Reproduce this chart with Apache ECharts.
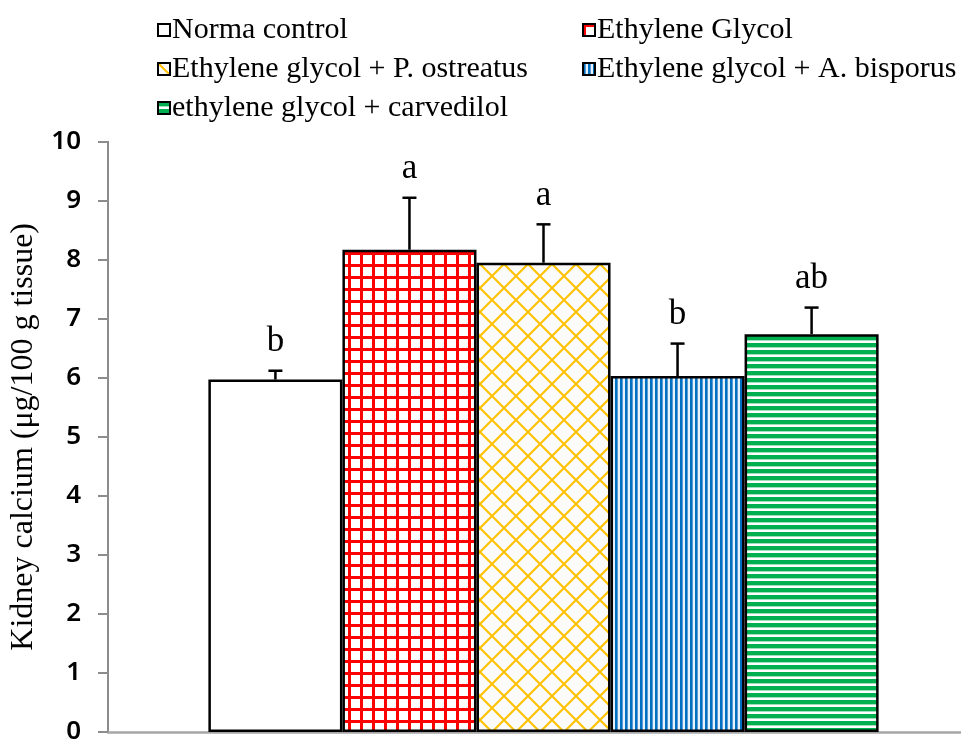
<!DOCTYPE html>
<html>
<head>
<meta charset="utf-8">
<script src="https://cdn.jsdelivr.net/npm/echarts@6/dist/echarts.min.js"></script>
<style>
  html, body { margin: 0; padding: 0; background: #ffffff; overflow: hidden; }
  /* the x axis runs on past the right edge of the page */
  #chart { width: 979px; height: 745px; }
</style>
</head>
<body>
<div id="chart"></div>
<script>
// Treatment groups, mean kidney calcium and upper error (SE), significance letters
const groups = [
  'Norma control',
  'Ethylene Glycol',
  'Ethylene glycol + P. ostreatus',
  'Ethylene glycol + A. bisporus',
  'ethylene glycol + carvedilol'
];
const calcium = [5.97, 8.17, 7.95, 6.03, 6.74];
const calciumErr = [0.15, 0.88, 0.65, 0.55, 0.45];
const letters = ['b', 'a', 'a', 'b', 'ab'];
const yMin = 0, yMax = 10, yStep = 1;

const SERIF = '"Liberation Serif", "Times New Roman", serif';
const BAR_FRAC = 0.1539;   // bar width as a share of the category band

// ---- fill patterns ----
function pattern(w, h, draw) {
  const c = document.createElement('canvas');
  c.width = w; c.height = h;
  const ctx = c.getContext('2d');
  draw(ctx, w, h);
  return { image: c, repeat: 'repeat' };
}
const fillWhite = '#ffffff';
const fillRedGrid = pattern(12, 12, (ctx, w, h) => {
  ctx.fillStyle = '#ffffff'; ctx.fillRect(0, 0, w, h);
  ctx.fillStyle = '#ff0000';
  ctx.fillRect(0, 0, 3, h);
  ctx.fillRect(0, 0, w, 3);
});
const fillYellowLattice = pattern(24, 24, (ctx, w, h) => {
  ctx.fillStyle = '#fbfbfb'; ctx.fillRect(0, 0, w, h);
  ctx.strokeStyle = '#ffc000'; ctx.lineWidth = 2;
  for (const k of [-w, 0, w]) {
    ctx.beginPath(); ctx.moveTo(k, 0); ctx.lineTo(k + w, h); ctx.stroke();
    ctx.beginPath(); ctx.moveTo(k + w, 0); ctx.lineTo(k, h); ctx.stroke();
  }
});
const fillBlueStripes = pattern(5, 4, (ctx, w, h) => {
  ctx.fillStyle = '#e8f2fb'; ctx.fillRect(0, 0, w, h);
  ctx.fillStyle = '#0070c0'; ctx.fillRect(0, 0, 2, h);
  ctx.fillStyle = '#5b9bd5'; ctx.fillRect(2, 0, 1, h);
});
const fillGreenStripes = pattern(4, 7, (ctx, w, h) => {
  ctx.fillStyle = '#ffffff'; ctx.fillRect(0, 0, w, h);
  ctx.fillStyle = '#00b050'; ctx.fillRect(0, 0, w, 4);
  ctx.fillStyle = '#9fdfbb'; ctx.fillRect(0, 4, w, 1);
});
const fills = [fillWhite, fillRedGrid, fillYellowLattice, fillBlueStripes, fillGreenStripes];

const barSeries = groups.map((name, i) => ({
  name: name,
  type: 'bar',
  barWidth: (BAR_FRAC * 100) + '%',
  barGap: '0%',
  data: [calcium[i]],
  itemStyle: { color: fills[i], borderColor: '#000000', borderWidth: 2.5 },
  emphasis: { disabled: true },
  z: 2
}));

// upper error whiskers with caps and significance letters
const errorSeries = {
  type: 'custom',
  data: calcium.map((v, i) => [0, v, calciumErr[i], i]),
  z: 5,
  silent: true,
  renderItem: function (params, api) {
    const slot = api.value(3);
    const band = api.size([1, 0])[0];
    const barW = band * BAR_FRAC;
    const base = api.coord([0, api.value(1)]);
    const top = api.coord([0, api.value(1) + api.value(2)]);
    const x = base[0] + (slot - (groups.length - 1) / 2) * barW;
    const cap = 7;
    const style = { stroke: '#000000', lineWidth: 2.5 };
    return {
      type: 'group',
      children: [
        { type: 'line', shape: { x1: x, y1: base[1], x2: x, y2: top[1] }, style: style },
        { type: 'line', shape: { x1: x - cap, y1: top[1], x2: x + cap, y2: top[1] }, style: style },
        {
          type: 'text',
          style: {
            text: letters[slot], x: x, y: top[1] - 11,
            align: 'center', verticalAlign: 'bottom',
            font: '35px ' + SERIF, fill: '#000000'
          }
        }
      ]
    };
  }
};

const legendText = { fontFamily: SERIF, fontSize: 30, color: '#000000', lineHeight: 30, padding: [0, 0, 0, -3] };
const legendBase = {
  orient: 'vertical',
  icon: 'rect',
  itemWidth: 12,
  itemHeight: 12,
  itemGap: 9,
  selectedMode: false,
  textStyle: legendText,
  itemStyle: { borderColor: '#000000', borderWidth: 2 }
};

const chart = echarts.init(document.getElementById('chart'), null, { renderer: 'canvas' });
chart.setOption({
  animation: false,
  backgroundColor: '#ffffff',
  legend: [
    Object.assign({}, legendBase, { left: 152, top: 10, data: [groups[0], groups[2], groups[4]] }),
    Object.assign({}, legendBase, { left: 577, top: 10, data: [groups[1], groups[3]] })
  ],
  grid: { left: 105, top: 141.7, right: 0, bottom: 6.7, containLabel: false },
  xAxis: {
    type: 'category',
    data: [''],
    axisLine: { lineStyle: { color: '#a6a6a6', width: 2.5 } },
    axisTick: { show: false },
    axisLabel: { show: false },
    splitLine: { show: false }
  },
  yAxis: {
    type: 'value',
    min: yMin, max: yMax, interval: yStep,
    name: 'Kidney calcium (μg/100 g tissue)',
    nameLocation: 'middle',
    nameRotate: 90,
    nameGap: 68,
    nameTextStyle: { fontFamily: SERIF, fontSize: 32, color: '#000000' },
    axisLine: { show: true, lineStyle: { color: '#8c8c8c', width: 2 } },
    axisTick: { show: true, inside: false, length: 10, lineStyle: { color: '#8c8c8c', width: 2 } },
    axisLabel: { margin: 27, fontFamily: '"Noto Sans", sans-serif', fontSize: 26, fontWeight: 600, color: '#000000' },
    splitLine: { show: false }
  },
  series: barSeries.concat([errorSeries])
});
</script>
</body>
</html>
